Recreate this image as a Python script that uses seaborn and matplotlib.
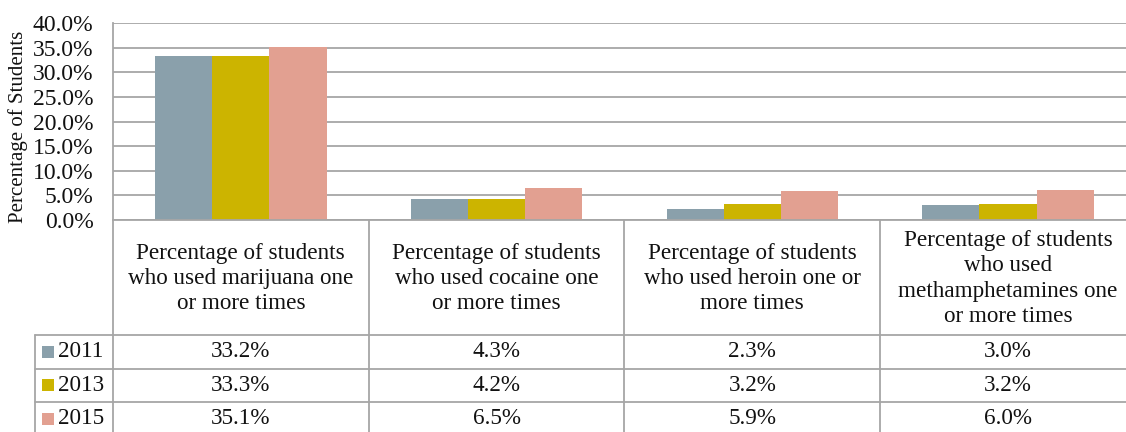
import matplotlib
matplotlib.use("Agg")
import matplotlib.pyplot as plt
import matplotlib.transforms as mtransforms
from matplotlib.lines import Line2D
from matplotlib.patches import Rectangle
from matplotlib.ticker import PercentFormatter
import seaborn as sns
import pandas as pd

# ---------------- data ----------------
categories = [
    "Percentage of students\nwho used marijuana one\nor more times",
    "Percentage of students\nwho used cocaine one\nor more times",
    "Percentage of students\nwho used heroin one or\nmore times",
    "Percentage of students\nwho used\nmethamphetamines one\nor more times",
]
years = ["2011", "2013", "2015"]
values_2011 = [33.2, 4.3, 2.3, 3.0]
values_2013 = [33.3, 4.2, 3.2, 3.2]
values_2015 = [35.1, 6.5, 5.9, 6.0]
colors = ["#8AA0AB", "#CCB400", "#E2A091"]
y_ticks = [0, 5, 10, 15, 20, 25, 30, 35, 40]

series = {"2011": values_2011, "2013": values_2013, "2015": values_2015}
rows = []
for yr in years:
    for i, cat in enumerate(categories):
        rows.append({"category": cat, "year": yr, "value": series[yr][i]})
df = pd.DataFrame(rows)

# ---------------- style ----------------
sns.set_style("white")
plt.rcParams["font.family"] = ["Liberation Serif", "DejaVu Serif"]

W, H = 1126, 432
fig = plt.figure(figsize=(W / 100, H / 100), dpi=100)

def fx(px):
    return px / W

def fy(py):
    return 1 - py / H

left_px, top_px, bottom_px = 113, 23, 220
cat_w = 255.7
ax = fig.add_axes([fx(left_px), fy(bottom_px), 4 * cat_w / W, (bottom_px - top_px) / H])

sns.barplot(data=df, x="category", y="value", hue="year", order=categories,
            hue_order=years, palette=colors, width=0.67, saturation=1,
            edgecolor="none", linewidth=0, ax=ax, legend=False)

grid_c = "#A6A6A6"
txt_c = "#111111"
fs = 16.7
ax.set_ylim(0, 40)
ax.set_yticks(y_ticks)
ax.yaxis.set_major_formatter(PercentFormatter(decimals=1))
ax.set_xlim(-0.5, 3.5)
ax.set_xticks([])
ax.set_xlabel("")
ax.set_ylabel("")
ax.tick_params(axis="y", length=0, pad=14, labelsize=17, colors=txt_c)
ax.yaxis.grid(True, color=grid_c, linewidth=1.3)
ax.set_axisbelow(True)
for s in ["top", "right"]:
    ax.spines[s].set_visible(False)
for s in ["left", "bottom"]:
    ax.spines[s].set_color(grid_c)
    ax.spines[s].set_linewidth(1.3)

fig.text(fx(18), fy(127), "Percentage of Students", rotation=90, ha="center", va="center",
         fontsize=15, color=txt_c)

# ---------------- data table ----------------
blend = mtransforms.blended_transform_factory(ax.transData, fig.transFigure)
row_lines = [335, 368.5, 402, 436]
line_kw = dict(color=grid_c, linewidth=1.3)

for xb in [-0.5, 0.5, 1.5, 2.5, 3.5]:
    fig.add_artist(Line2D([xb, xb], [fy(bottom_px), fy(440)], transform=blend, **line_kw))
fig.add_artist(Line2D([fx(35), fx(35)], [fy(335), fy(440)], transform=fig.transFigure, **line_kw))
for ry in row_lines:
    fig.add_artist(Line2D([fx(35), fx(1140)], [fy(ry), fy(ry)], transform=fig.transFigure, **line_kw))

for i, cat in enumerate(categories):
    fig.text(i, fy((bottom_px + 335) / 2 + 1), cat, transform=blend, ha="center", va="center",
             fontsize=fs, linespacing=1.28, color=txt_c)

for r, yr in enumerate(years):
    yc = (row_lines[r] + row_lines[r + 1]) / 2
    fig.add_artist(Rectangle((fx(42), fy(yc + 6)), fx(12), 12 / H, transform=fig.transFigure,
                             facecolor=colors[r], edgecolor="none"))
    fig.text(fx(58), fy(yc), yr, ha="left", va="center", fontsize=fs, color=txt_c)
    for i in range(len(categories)):
        fig.text(i, fy(yc), f"{series[yr][i]:.1f}%", transform=blend, ha="center", va="center",
                 fontsize=fs, color=txt_c)

fig.savefig("out.png", dpi=100)
